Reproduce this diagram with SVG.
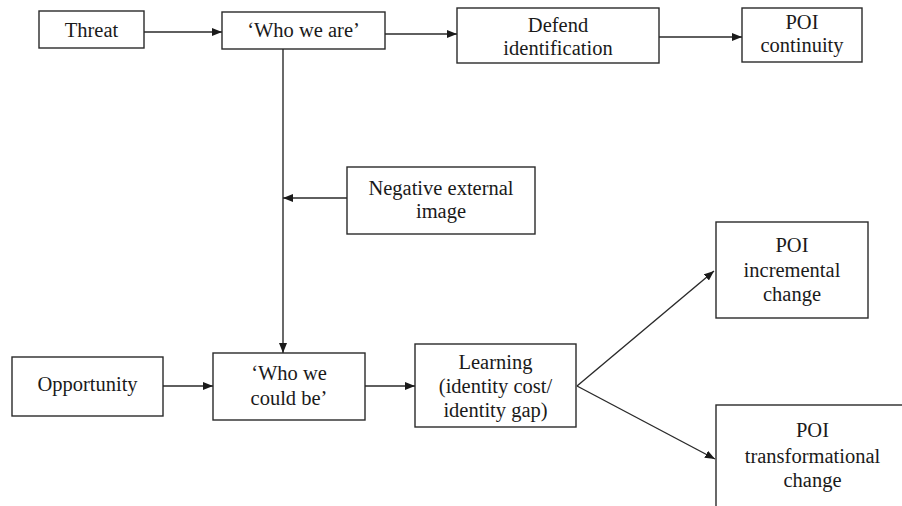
<svg xmlns="http://www.w3.org/2000/svg" width="902" height="506" viewBox="0 0 902 506">
  <style>
    .box { fill: #ffffff; stroke: #2a2a2a; stroke-width: 1.4; }
    .lbl { font-size: 20.5px; fill: #1a1a1a; text-anchor: middle; }
    .edge { fill: none; stroke: #2a2a2a; stroke-width: 1.4; }
    .arr { marker-end: url(#head); }
  </style>
  <defs>
    <marker id="head" markerUnits="userSpaceOnUse" markerWidth="10" markerHeight="8" refX="10" refY="4" orient="auto">
      <path d="M0,0 L10,4 L0,8 z" fill="#1a1a1a"/>
    </marker>
  </defs>
  <rect x="0" y="0" width="902" height="506" fill="#ffffff"/>

  <!-- connectors -->
  <g id="connectors">
    <line class="edge arr" x1="144" y1="32" x2="222" y2="32"/>
    <line class="edge arr" x1="385" y1="34" x2="457" y2="34"/>
    <line class="edge arr" x1="659" y1="37" x2="742" y2="37"/>
    <line class="edge arr" x1="283" y1="49" x2="283" y2="353"/>
    <line class="edge arr" x1="347" y1="198" x2="283" y2="198"/>
    <line class="edge arr" x1="163" y1="386" x2="213" y2="386"/>
    <line class="edge arr" x1="365" y1="386" x2="415" y2="386"/>
    <line class="edge arr" x1="577" y1="386" x2="714" y2="271"/>
    <line class="edge arr" x1="577" y1="386" x2="715" y2="459"/>
  </g>

  <g font-family="'Liberation Serif', 'Times New Roman', Times, serif">
  <g id="threat">
    <rect class="box" x="39" y="11" width="105" height="37"/>
    <text class="lbl" x="91.5" y="37">Threat</text>
  </g>
  <g id="who-we-are">
    <rect class="box" x="222" y="12" width="163" height="37"/>
    <text class="lbl" x="303.5" y="37">‘Who we are’</text>
  </g>
  <g id="defend-identification">
    <rect class="box" x="457" y="8" width="202" height="55"/>
    <text class="lbl" x="558" y="32">Defend</text>
    <text class="lbl" x="558" y="55">identification</text>
  </g>
  <g id="poi-continuity">
    <rect class="box" x="742" y="8" width="120" height="54"/>
    <text class="lbl" x="802" y="29">POI</text>
    <text class="lbl" x="802" y="52">continuity</text>
  </g>
  <g id="negative-external-image">
    <rect class="box" x="347" y="167" width="188" height="67"/>
    <text class="lbl" x="441" y="195">Negative external</text>
    <text class="lbl" x="441" y="218">image</text>
  </g>
  <g id="opportunity">
    <rect class="box" x="12" y="357" width="151" height="59"/>
    <text class="lbl" x="87.5" y="391">Opportunity</text>
  </g>
  <g id="who-we-could-be">
    <rect class="box" x="213" y="353" width="152" height="67"/>
    <text class="lbl" x="289" y="380">‘Who we</text>
    <text class="lbl" x="289" y="405">could be’</text>
  </g>
  <g id="learning">
    <rect class="box" x="415" y="344" width="161" height="83"/>
    <text class="lbl" x="495.5" y="369">Learning</text>
    <text class="lbl" x="495.5" y="393">(identity cost/</text>
    <text class="lbl" x="495.5" y="417">identity gap)</text>
  </g>
  <g id="poi-incremental-change">
    <rect class="box" x="716" y="222" width="152" height="96"/>
    <text class="lbl" x="792" y="252">POI</text>
    <text class="lbl" x="792" y="277">incremental</text>
    <text class="lbl" x="792" y="301">change</text>
  </g>
  <g id="poi-transformational-change">
    <rect class="box" x="716" y="405" width="193" height="110"/>
    <text class="lbl" x="812.5" y="437">POI</text>
    <text class="lbl" x="812.5" y="463">transformational</text>
    <text class="lbl" x="812.5" y="487">change</text>
  </g>
  </g>
</svg>
